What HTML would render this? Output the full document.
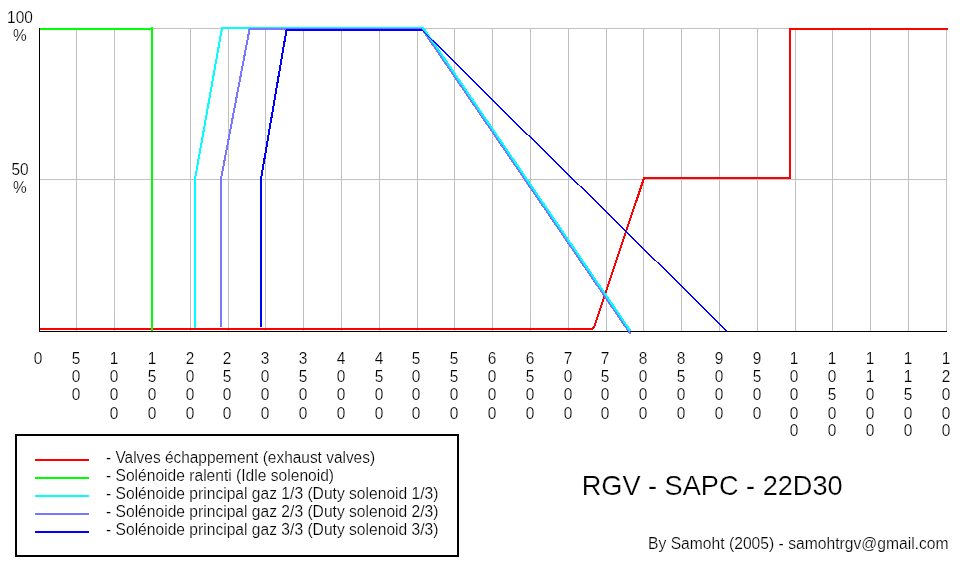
<!DOCTYPE html>
<html><head><meta charset="utf-8"><title>RGV - SAPC - 22D30</title>
<style>
html,body{margin:0;padding:0;background:#fff;}
body{width:965px;height:565px;position:relative;overflow:hidden;font-family:"Liberation Sans",sans-serif;color:#000;-webkit-text-stroke:0.2px #fff;}
svg{position:absolute;left:0;top:0;}
.t{position:absolute;white-space:nowrap;font-size:16px;line-height:17.500px;transform:scale(0.965,1.04);transform-origin:0 0;}
.xl{position:absolute;top:348.93px;width:30px;text-align:center;font-size:16px;line-height:17.500px;transform:scale(0.965,1.04);transform-origin:50% 0;}
.yl{position:absolute;left:0;width:40px;text-align:center;font-size:16px;line-height:17.500px;transform:scale(0.965,1.04);transform-origin:50% 0;}
.lg{position:absolute;left:105.6px;top:447.80px;white-space:nowrap;font-size:16px;line-height:17.375px;transform:scale(0.965,1.04);transform-origin:0 0;}
</style></head><body>

<svg width="965" height="565" viewBox="0 0 965 565" shape-rendering="crispEdges" fill="none">
<line x1="76.5" y1="28" x2="76.5" y2="331" stroke="#c0c0c0" stroke-width="1"/>
<line x1="114.5" y1="28" x2="114.5" y2="331" stroke="#c0c0c0" stroke-width="1"/>
<line x1="152.5" y1="28" x2="152.5" y2="331" stroke="#c0c0c0" stroke-width="1"/>
<line x1="190.5" y1="28" x2="190.5" y2="331" stroke="#c0c0c0" stroke-width="1"/>
<line x1="228.5" y1="28" x2="228.5" y2="331" stroke="#c0c0c0" stroke-width="1"/>
<line x1="265.5" y1="28" x2="265.5" y2="331" stroke="#c0c0c0" stroke-width="1"/>
<line x1="303.5" y1="28" x2="303.5" y2="331" stroke="#c0c0c0" stroke-width="1"/>
<line x1="341.5" y1="28" x2="341.5" y2="331" stroke="#c0c0c0" stroke-width="1"/>
<line x1="379.5" y1="28" x2="379.5" y2="331" stroke="#c0c0c0" stroke-width="1"/>
<line x1="417.5" y1="28" x2="417.5" y2="331" stroke="#c0c0c0" stroke-width="1"/>
<line x1="454.5" y1="28" x2="454.5" y2="331" stroke="#c0c0c0" stroke-width="1"/>
<line x1="492.5" y1="28" x2="492.5" y2="331" stroke="#c0c0c0" stroke-width="1"/>
<line x1="530.5" y1="28" x2="530.5" y2="331" stroke="#c0c0c0" stroke-width="1"/>
<line x1="568.5" y1="28" x2="568.5" y2="331" stroke="#c0c0c0" stroke-width="1"/>
<line x1="606.5" y1="28" x2="606.5" y2="331" stroke="#c0c0c0" stroke-width="1"/>
<line x1="643.5" y1="28" x2="643.5" y2="331" stroke="#c0c0c0" stroke-width="1"/>
<line x1="681.5" y1="28" x2="681.5" y2="331" stroke="#c0c0c0" stroke-width="1"/>
<line x1="719.5" y1="28" x2="719.5" y2="331" stroke="#c0c0c0" stroke-width="1"/>
<line x1="757.5" y1="28" x2="757.5" y2="331" stroke="#c0c0c0" stroke-width="1"/>
<line x1="795.5" y1="28" x2="795.5" y2="331" stroke="#c0c0c0" stroke-width="1"/>
<line x1="832.5" y1="28" x2="832.5" y2="331" stroke="#c0c0c0" stroke-width="1"/>
<line x1="870.5" y1="28" x2="870.5" y2="331" stroke="#c0c0c0" stroke-width="1"/>
<line x1="908.5" y1="28" x2="908.5" y2="331" stroke="#c0c0c0" stroke-width="1"/>
<line x1="946.5" y1="28" x2="946.5" y2="331" stroke="#c0c0c0" stroke-width="1"/>
<line x1="39" y1="28.5" x2="947" y2="28.5" stroke="#c0c0c0" stroke-width="1"/>
<line x1="39" y1="179.5" x2="947" y2="179.5" stroke="#c0c0c0" stroke-width="1"/>
<polyline points="40,329 592,329 594,327.5 644,178 790,178 790,29 948,29" stroke="#ff0000" stroke-width="2" stroke-linejoin="miter"/>
<line x1="39.5" y1="28" x2="39.5" y2="332" stroke="#000" stroke-width="1"/>
<line x1="39" y1="331.5" x2="947" y2="331.5" stroke="#000" stroke-width="1"/>
<polyline points="40,29 152,29 152,331" stroke="#00ff00" stroke-width="2"/>
<line x1="152" y1="27" x2="152" y2="29" stroke="#00ff00" stroke-width="2"/>
<polyline points="221,327 221,179 249.5,29.3 422.3,29.3 630.5,334" stroke="#7777ff" stroke-width="2"/>
<polyline points="195,328 195,179 222,28 423.5,28 630.4,331" stroke="#00ffff" stroke-width="2"/>
<polyline points="221,327 221,179 249.5,29.3 422,29.3" stroke="#7777ff" stroke-width="2"/>
<polyline points="261,327 261,179 286.5,29.8 422,29.8" stroke="#0000ff" stroke-width="2"/>
<polyline points="421.5,29.5 482.3,90.2 604.9,210.4 665.3,270.2 727.3,331.3" stroke="#0000ff" stroke-width="1.4"/>
<rect x="16" y="435" width="442" height="121" stroke="#000" stroke-width="2"/>
<line x1="35" y1="460" x2="89" y2="460" stroke="#ff0000" stroke-width="2"/>
<line x1="35" y1="478" x2="89" y2="478" stroke="#00ff00" stroke-width="2"/>
<line x1="35" y1="496" x2="89" y2="496" stroke="#00ffff" stroke-width="2"/>
<line x1="35" y1="514" x2="89" y2="514" stroke="#7777ff" stroke-width="2"/>
<line x1="35" y1="532" x2="89" y2="532" stroke="#0000ff" stroke-width="2"/>
</svg>
<div id="txt" style="position:absolute;left:0;top:0;width:965px;height:565px;will-change:transform;">
<div class="yl" style="top:8.13px">100<br>%</div>
<div class="yl" style="top:160.03px">50<br>%</div>
<div class="xl" style="left:23.3px">0</div>
<div class="xl" style="left:61.1px">5<br>0<br>0</div>
<div class="xl" style="left:98.9px">1<br>0<br>0<br>0</div>
<div class="xl" style="left:136.7px">1<br>5<br>0<br>0</div>
<div class="xl" style="left:174.5px">2<br>0<br>0<br>0</div>
<div class="xl" style="left:212.3px">2<br>5<br>0<br>0</div>
<div class="xl" style="left:250.1px">3<br>0<br>0<br>0</div>
<div class="xl" style="left:287.9px">3<br>5<br>0<br>0</div>
<div class="xl" style="left:325.7px">4<br>0<br>0<br>0</div>
<div class="xl" style="left:363.5px">4<br>5<br>0<br>0</div>
<div class="xl" style="left:401.3px">5<br>0<br>0<br>0</div>
<div class="xl" style="left:439.1px">5<br>5<br>0<br>0</div>
<div class="xl" style="left:476.9px">6<br>0<br>0<br>0</div>
<div class="xl" style="left:514.7px">6<br>5<br>0<br>0</div>
<div class="xl" style="left:552.5px">7<br>0<br>0<br>0</div>
<div class="xl" style="left:590.3px">7<br>5<br>0<br>0</div>
<div class="xl" style="left:628.1px">8<br>0<br>0<br>0</div>
<div class="xl" style="left:665.9px">8<br>5<br>0<br>0</div>
<div class="xl" style="left:703.7px">9<br>0<br>0<br>0</div>
<div class="xl" style="left:741.5px">9<br>5<br>0<br>0</div>
<div class="xl" style="left:779.3px">1<br>0<br>0<br>0<br>0</div>
<div class="xl" style="left:817.1px">1<br>0<br>5<br>0<br>0</div>
<div class="xl" style="left:854.9px">1<br>1<br>0<br>0<br>0</div>
<div class="xl" style="left:892.7px">1<br>1<br>5<br>0<br>0</div>
<div class="xl" style="left:930.5px">1<br>2<br>0<br>0<br>0</div>
<div class="lg" style="top:447.80px;transform:scale(0.9645,1.04)">- Valves échappement (exhaust valves)</div>
<div class="lg" style="top:465.87px;transform:scale(0.975,1.04)">- Solénoide ralenti (Idle solenoid)</div>
<div class="lg" style="top:483.94px;transform:scale(0.976,1.04)">- Solénoide principal gaz 1/3 (Duty solenoid 1/3)</div>
<div class="lg" style="top:502.01px;transform:scale(0.976,1.04)">- Solénoide principal gaz 2/3 (Duty solenoid 2/3)</div>
<div class="lg" style="top:520.08px;transform:scale(0.976,1.04)">- Solénoide principal gaz 3/3 (Duty solenoid 3/3)</div>
<div class="t" style="left:581.7px;top:468.88px;font-size:27.15px;line-height:32px;transform:scale(1,1.04)">RGV - SAPC - 22D30</div>
<div class="t" style="left:648.0px;top:533.83px;transform:scale(0.979,1.04)">By Samoht (2005) - samohtrgv@gmail.com</div>
</div>
</body></html>
